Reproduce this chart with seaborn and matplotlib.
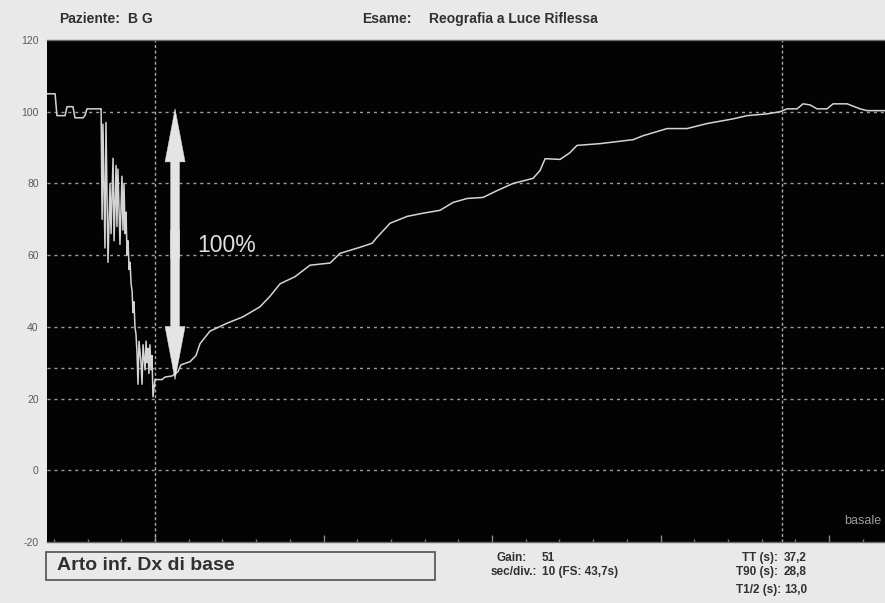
import matplotlib
matplotlib.use("Agg")
import matplotlib.pyplot as plt
import pandas as pd
import seaborn as sns
from matplotlib.ticker import MultipleLocator
from matplotlib.patches import Rectangle

# Light-reflection rheography trace: time (s) relative to the end of the
# exercise manoeuvre, signal in % of the resting baseline
time_s = [
    -6.41, -5.93, -5.82, -5.34, -5.22, -4.87, -4.75, -4.27, -4.15, -4.04, -3.26,
    -3.20, -3.14, -3.09, -2.97, -2.91, -2.79, -2.67, -2.61, -2.49, -2.43, -2.31,
    -2.26, -2.20, -2.08, -1.96, -1.90, -1.84, -1.78, -1.72, -1.66, -1.60, -1.54,
    -1.48, -1.42, -1.36, -1.31, -1.25, -1.19, -1.13, -1.07, -1.01, -0.95, -0.83,
    -0.77, -0.71, -0.59, -0.53, -0.47, -0.42, -0.36, -0.30, -0.24, -0.18, -0.12,
    0.00, 0.42, 0.59, 1.01, 1.36, 1.54, 2.08, 2.43, 2.67, 3.26, 4.27, 5.22, 6.23,
    6.82, 7.42, 8.31, 9.20, 10.39, 10.98, 12.17, 12.88, 13.18, 13.95, 14.96,
    15.91, 16.91, 17.69, 18.52, 19.47, 20.30, 21.25, 22.43, 22.85, 23.15, 24.04,
    24.63, 25.04, 26.41, 28.37, 28.96, 30.39, 31.57, 32.76, 34.30, 35.13, 36.32,
    37.09, 37.51, 38.10, 38.46, 38.87, 39.29, 39.88, 40.24, 41.07, 41.84, 42.26,
    43.32,
]
signal = [
    105.0, 105.0, 98.9, 98.9, 101.4, 101.4, 98.3, 98.3, 99.0, 100.8, 100.8,
    100.8, 70.0, 96.5, 62.0, 97.0, 58.0, 80.0, 66.0, 87.0, 64.0, 85.0,
    68.0, 84.0, 63.0, 82.0, 67.0, 80.0, 66.0, 72.0, 60.0, 64.0, 56.0,
    58.0, 52.0, 50.0, 44.0, 47.0, 40.0, 38.0, 33.0, 24.0, 36.0, 30.0,
    24.0, 35.0, 28.0, 36.0, 30.0, 34.0, 27.0, 35.0, 28.0, 32.0, 20.5,
    25.3, 25.3, 26.0, 26.3, 27.5, 29.4, 30.3, 32.0, 35.3, 38.8, 41.0, 42.8, 45.6,
    48.5, 52.0, 54.0, 57.2, 57.8, 60.5, 62.2, 63.3, 65.0, 68.9, 70.8,
    71.7, 72.5, 74.7, 75.8, 76.1, 78.0, 80.0, 81.4, 83.6, 86.9, 86.7,
    88.6, 90.6, 91.1, 92.2, 93.3, 95.3, 95.3, 96.7, 98.0, 98.9, 99.4,
    100.0, 100.8, 100.8, 102.2, 101.9, 100.8, 100.8, 102.2, 102.2, 100.8, 100.3,
    100.3,
]

y_ticks = [120, 100, 80, 60, 40, 20, 0, -20]
grid_levels = [100, 80, 60, 40, 28.6, 20, 0]
start_s = 0.0
tt_s = 37.2
amplitude_top = 100.8
amplitude_bottom = 25.3
amplitude_label = "100%"

patient = "B G"
exam = "Reografia a Luce Riflessa"
limb = "Arto inf. Dx di base"
left_labels = ["Gain:", "sec/div.:"]
left_values = ["51", "10 (FS: 43,7s)"]
right_labels = ["TT (s):", "T90 (s):", "T1/2 (s):"]
right_values = ["37,2", "28,8", "13,0"]

sns.set_style("dark")
plt.rcParams["font.family"] = ["Liberation Sans", "DejaVu Sans"]

paper = "#e9e9e9"
ink = "#303030"
fig = plt.figure(figsize=(8.85, 6.03), dpi=100, facecolor=paper)
ax = fig.add_axes([47 / 885, 1 - 542 / 603, 838 / 885, 502 / 603])
ax.set_facecolor("#030303")

# reference levels and markers
for lvl in grid_levels:
    ax.axhline(lvl, color="#9c9c9c", lw=1.0, dashes=(2.2, 2.8), zorder=1)
ax.axvline(start_s, color="#a8a8a8", lw=1.0, dashes=(2.2, 1.8), zorder=1)
ax.axvline(tt_s, color="#a8a8a8", lw=1.0, dashes=(2.2, 1.8), zorder=1)

trace = pd.DataFrame({"t": time_s, "v": signal})
sns.lineplot(data=trace, x="t", y="v", ax=ax, estimator=None, sort=False,
             color="#d4d4d4", lw=1.1, zorder=3)

# double-headed amplitude arrow (two overlapping halves)
arrow_x = 1.19
mid = (amplitude_top + amplitude_bottom) / 2
for start, end in ((mid - 4, amplitude_top), (mid + 4, amplitude_bottom)):
    ax.arrow(arrow_x, start, 0, end - start, width=0.53, head_width=1.19,
             head_length=14.8, length_includes_head=True,
             color="#e4e4e4", lw=0.3, zorder=4)
ax.text(2.49, 62.8, amplitude_label, color="#e2e2e2", fontsize=16.5,
        ha="left", va="center", zorder=5)
ax.text(0.995, 0.042, "basale", transform=ax.transAxes, color="#9a9a9a",
        fontsize=9, ha="right", va="center")

ax.set_xlim(-6.41, 43.32)
ax.set_ylim(-20, 120)
ax.set_yticks(y_ticks)
ax.set_yticklabels([str(v) for v in y_ticks], color="#5a5a5a", fontsize=7.5)
ax.xaxis.set_major_locator(MultipleLocator(10))
ax.xaxis.set_minor_locator(MultipleLocator(2))
ax.tick_params(axis="x", which="major", direction="in", length=5, width=1,
               color="#8a8a8a", labelbottom=False, bottom=True)
ax.tick_params(axis="x", which="minor", direction="in", length=2.5, width=1,
               color="#7a7a7a", bottom=True)
ax.tick_params(axis="y", length=0, pad=6)
ax.set_xlabel("")
ax.set_ylabel("")
ax.grid(False)
for side, sp in ax.spines.items():
    sp.set_visible(side in ("top", "bottom"))
    sp.set_color("#6a6a6a")
    sp.set_linewidth(1)

# header
head_kw = dict(fontsize=10, color=ink, fontweight="bold", va="center")
fig.text(59 / 885, 1 - 19 / 603, "Paziente:", **head_kw)
fig.text(128 / 885, 1 - 19 / 603, patient, **head_kw)
fig.text(362 / 885, 1 - 19 / 603, "Esame:", **head_kw)
fig.text(429 / 885, 1 - 19 / 603, exam, **head_kw)

# limb box
fig.patches.append(Rectangle((46 / 885, 1 - 580 / 603), 389 / 885, 28 / 603,
                             transform=fig.transFigure, fill=False,
                             edgecolor="#505050", lw=1.2))
fig.text(57 / 885, 1 - 566 / 603, limb, fontsize=14, fontweight="bold",
         color=ink, va="center")

# acquisition parameters
stat_kw = dict(fontsize=8.5, color=ink, fontweight="bold", va="center")
for lab, val, xr, yy in zip(left_labels, left_values, [527, 537], [558, 572]):
    fig.text(xr / 885, 1 - yy / 603, lab, ha="right", **stat_kw)
    fig.text(542 / 885, 1 - yy / 603, val, ha="left", **stat_kw)
for lab, val, xr, yy in zip(right_labels, right_values, [778, 778, 781],
                            [558, 572, 590]):
    fig.text(xr / 885, 1 - yy / 603, lab, ha="right", **stat_kw)
    fig.text(784 / 885, 1 - yy / 603, val, ha="left", **stat_kw)

fig.savefig("out.png", dpi=100, facecolor=paper)
